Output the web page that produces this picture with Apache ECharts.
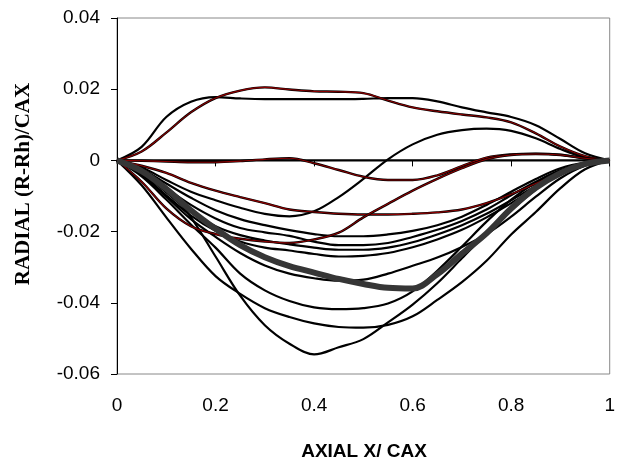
<!DOCTYPE html>
<html>
<head>
<meta charset="utf-8">
<title>Radial vs axial</title>
<script src="https://cdn.jsdelivr.net/npm/echarts@6/dist/echarts.min.js"></script>
<style>
  html, body { margin: 0; padding: 0; background: #fff; }
  #chart { width: 618px; height: 464px; }
</style>
</head>
<body>
<div id="chart"></div>
<script>
// axial positions shared by every curve
var axialX = [0, 0.05, 0.1, 0.15, 0.2, 0.25, 0.3, 0.35, 0.4, 0.45, 0.5,
              0.55, 0.6, 0.65, 0.7, 0.75, 0.8, 0.85, 0.9, 0.95, 1];

// curves above / around zero
var upperBlack = [0, .0038, .0122, .0165, .0178, .0174, .0172, .0172, .0172, .0172, .0173,
                  .0175, .0175, .0166, .0149, .0135, .0122, .0099, .006, .002, 0];
var upperRed   = [0, .0025, .0078, .0135, .0175, .0196, .0205, .0199, .0194, .0193, .0189,
                  .0168, .0149, .0138, .0129, .0121, .0107, .0076, .0039, .0012, 0];
var zeroLine   = [0, 0, 0, 0, 0, 0, 0, 0, 0, 0, 0, 0, 0, 0, 0, 0, 0, 0, 0, 0, 0];
var nearZeroRed = [0, -.0001, -.0003, -.0005, -.0005, -.0002, .0003, .0006, -.0008, -.0027, -.0046,
                   -.0055, -.0055, -.0042, -.0016, .0008, .0017, .0019, .0016, .0006, 0];
var sCurve     = [0, -.002, -.0055, -.0088, -.0112, -.0133, -.015, -.0157, -.0143, -.0103, -.0052,
                  .0003, .0045, .0072, .0085, .0089, .0083, .0062, .0032, .0008, 0];
var midRed     = [0, -.0015, -.0035, -.0063, -.0085, -.0103, -.012, -.0138, -.0145, -.015, -.0152,
                  -.0152, -.015, -.0146, -.0138, -.012, -.0095, -.0065, -.0035, -.0012, 0];
var lowRed     = [0, -.006, -.0135, -.0185, -.0207, -.022, -.0228, -.0232, -.0222, -.0203, -.016,
                  -.0122, -.0085, -.0052, -.0022, .0003, .0015, .0018, .0015, .0006, 0];

// lower bundle (black)
var low1 = [0, -.0025, -.0065, -.0105, -.014, -.0165, -.0182, -.0196, -.0207, -.0213, -.0213,
            -.0208, -.0198, -.0182, -.0158, -.0125, -.0088, -.0052, -.0022, -.0006, 0];
var low2 = [0, -.003, -.0078, -.0125, -.0163, -.019, -.0202, -.0212, -.0228, -.0238, -.0238,
            -.0232, -.0215, -.0195, -.017, -.0138, -.0098, -.006, -.0028, -.0008, 0];
var low3 = [0, -.0035, -.009, -.0145, -.0185, -.021, -.0225, -.0236, -.0245, -.0251, -.0251,
            -.0245, -.023, -.0208, -.0182, -.015, -.0112, -.0072, -.0035, -.001, 0];
var low4 = [0, -.004, -.0098, -.0155, -.0198, -.0228, -.0245, -.0253, -.0263, -.027, -.0268,
            -.026, -.0244, -.0222, -.0195, -.016, -.012, -.0078, -.0038, -.0011, 0];
var low5 = [0, -.004, -.0102, -.0165, -.0215, -.026, -.0295, -.0318, -.0331, -.0338, -.0335,
            -.0318, -.0296, -.0273, -.0243, -.0207, -.0158, -.0102, -.005, -.0015, 0];
var low6 = [0, -.0045, -.011, -.018, -.0245, -.0318, -.0365, -.0395, -.0413, -.0418, -.0415,
            -.0402, -.0368, -.031, -.0242, -.0172, -.011, -.0062, -.0028, -.0008, 0];
var low7 = [0, -.007, -.016, -.0248, -.0325, -.0375, -.0415, -.044, -.0458, -.0468, -.047,
            -.0462, -.0438, -.0392, -.0342, -.0282, -.0208, -.0145, -.0078, -.0025, 0];
var low8 = [0, -.0025, -.0075, -.016, -.027, -.038, -.0463, -.0515, -.0545, -.0525, -.0502,
            -.0455, -.0405, -.0345, -.0275, -.0205, -.014, -.0082, -.0037, -.001, 0];

// thick grey mean curve
var meanCurve = [0, -.003, -.008, -.014, -.0192, -.0238, -.0272, -.0297, -.0315, -.0333, -.0347,
                 -.0358, -.036, -.032, -.0262, -.0205, -.0135, -.0077, -.0036, -.001, 0];

var blackCurves = [upperBlack, zeroLine, sCurve, low1, low2, low3, low4, low5, low6, low7, low8];
var redCurves = [upperRed, nearZeroRed, midRed, lowRed];

function pairs(ys) {
    var out = [];
    for (var i = 0; i < axialX.length; i++) out.push([axialX[i], ys[i]]);
    return out;
}

function line(ys, color, width) {
    return {
        type: 'line',
        data: pairs(ys),
        smooth: 0.35,
        showSymbol: false,
        symbol: 'none',
        silent: true,
        lineStyle: { color: color, width: width }
    };
}

var series = [];
blackCurves.forEach(function (c) { series.push(line(c, '#000', 2.2)); });
redCurves.forEach(function (c) {
    series.push(line(c, '#000', 2.4));   // dark edge
    series.push(line(c, '#8b0000', 1.1));  // red core
});
series.push(line(meanCurve, '#363636', 6));

var chart = echarts.init(document.getElementById('chart'));
chart.setOption({
    animation: false,
    grid: {
        left: 117, right: 7, top: 18, bottom: 90,
        show: true, borderColor: '#888', borderWidth: 1
    },
    xAxis: {
        type: 'value', min: 0, max: 1, interval: 0.2,
        axisLine: { lineStyle: { color: '#000', width: 1 } },
        axisTick: { show: true, length: 6, lineStyle: { color: '#000' } },
        axisLabel: { color: '#000', fontSize: 19, fontFamily: 'Liberation Sans', margin: 22 },
        splitLine: { show: false }
    },
    yAxis: {
        type: 'value', min: -0.06, max: 0.04, interval: 0.02,
        axisLine: { show: true, lineStyle: { color: '#000', width: 1 } },
        axisTick: { show: true, length: 6, lineStyle: { color: '#000' } },
        axisLabel: { color: '#000', fontSize: 19, fontFamily: 'Liberation Sans', margin: 17 },
        splitLine: { show: false }
    },
    graphic: [
        {
            type: 'text', x: 364, y: 452,
            style: {
                text: 'AXIAL X/ CAX', fill: '#000',
                font: 'bold 19px "Liberation Sans"',
                textAlign: 'center', textVerticalAlign: 'middle'
            }
        },
        {
            type: 'text', x: 24, y: 184, rotation: Math.PI / 2,
            style: {
                text: 'RADIAL (R-Rh)/CAX', fill: '#000',
                font: 'bold 21px "Liberation Serif"',
                textAlign: 'center', textVerticalAlign: 'middle'
            }
        }
    ],
    series: series
});
</script>
</body>
</html>
